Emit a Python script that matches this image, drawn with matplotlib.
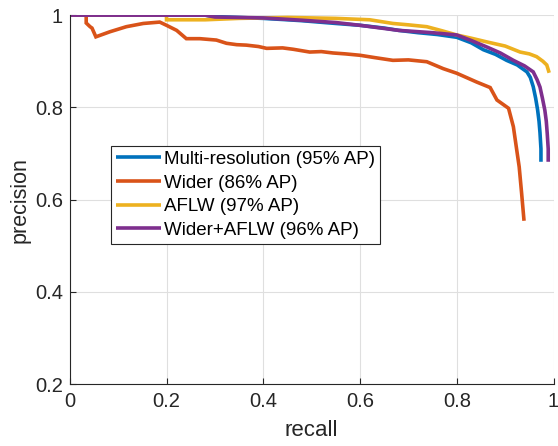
import numpy as np
import matplotlib.pyplot as plt

# precision / recall curves
recall_multi = [0, 0.28, 0.30, 0.35, 0.40, 0.45, 0.48, 0.55, 0.60, 0.65, 0.68, 0.72,
                0.76, 0.80, 0.83, 0.855, 0.88, 0.903, 0.925, 0.945, 0.952, 0.958,
                0.963, 0.967, 0.970, 0.972, 0.974, 0.974]
prec_multi = [1, 1, 0.997, 0.995, 0.993, 0.990, 0.988, 0.982, 0.978, 0.972, 0.967, 0.962,
              0.958, 0.952, 0.940, 0.925, 0.915, 0.902, 0.892, 0.877, 0.865, 0.845,
              0.820, 0.795, 0.770, 0.745, 0.710, 0.682]

recall_wider = [0, 0.034, 0.034, 0.042, 0.046, 0.054, 0.083, 0.117, 0.152, 0.186, 0.200,
                0.221, 0.241, 0.269, 0.303, 0.324, 0.345, 0.365, 0.390, 0.407, 0.440,
                0.462, 0.496, 0.520, 0.544, 0.570, 0.600, 0.630, 0.668, 0.700, 0.738,
                0.772, 0.800, 0.841, 0.869, 0.883, 0.907, 0.917, 0.924, 0.929, 0.934,
                0.939]
prec_wider = [1, 1, 0.983, 0.975, 0.972, 0.953, 0.964, 0.975, 0.982, 0.985, 0.978,
              0.967, 0.949, 0.949, 0.946, 0.939, 0.936, 0.935, 0.932, 0.928, 0.929,
              0.926, 0.920, 0.921, 0.918, 0.916, 0.913, 0.908, 0.902, 0.903, 0.899,
              0.884, 0.874, 0.855, 0.843, 0.816, 0.798, 0.758, 0.707, 0.671, 0.614,
              0.554]

recall_aflw = [0, 0.20, 0.20, 0.28, 0.35, 0.45, 0.55, 0.62, 0.668, 0.70, 0.738, 0.77,
               0.80, 0.83, 0.862, 0.90, 0.931, 0.95, 0.965, 0.978, 0.986, 0.991]
prec_aflw = [1, 1, 0.990, 0.990, 0.993, 0.995, 0.993, 0.990, 0.982, 0.979, 0.975, 0.966,
             0.957, 0.950, 0.942, 0.933, 0.920, 0.916, 0.910, 0.900, 0.892, 0.875]

recall_both = [0, 0.28, 0.30, 0.40, 0.48, 0.55, 0.60, 0.68, 0.75, 0.80, 0.83, 0.862,
               0.89, 0.917, 0.94, 0.958, 0.966, 0.972, 0.977, 0.982, 0.985, 0.987,
               0.989, 0.989]
prec_both = [1, 1, 0.996, 0.994, 0.989, 0.984, 0.978, 0.967, 0.962, 0.957, 0.945, 0.931,
             0.918, 0.902, 0.890, 0.877, 0.860, 0.844, 0.820, 0.794, 0.770, 0.743,
             0.710, 0.682]

labels = ["Multi-resolution (95% AP)", "Wider (86% AP)", "AFLW (97% AP)",
          "Wider+AFLW (96% AP)"]
colors = ["#0072BD", "#D95319", "#EDB120", "#7E2F8E"]

plt.rcParams["font.family"] = ["Liberation Sans", "DejaVu Sans"]

fig = plt.figure(figsize=(5.58, 4.46), dpi=100)
ax = fig.add_axes([0.125, 0.139, 0.867, 0.827])

curves = [(recall_multi, prec_multi), (recall_wider, prec_wider),
          (recall_aflw, prec_aflw), (recall_both, prec_both)]
for (r, p), lab, c in zip(curves, labels, colors):
    ax.plot(r, p, color=c, lw=2.6, label=lab, solid_joinstyle="miter",
            solid_capstyle="butt")

ax.set_xlim(0, 1)
ax.set_ylim(0.2, 1)
ax.set_xticks(np.arange(0, 1.01, 0.2))
ax.set_yticks(np.arange(0.2, 1.01, 0.2))
ax.set_xticklabels(["0", "0.2", "0.4", "0.6", "0.8", "1"])
ax.set_yticklabels(["0.2", "0.4", "0.6", "0.8", "1"])
ax.grid(True, color="#dfdfdf", lw=0.8)
ax.set_axisbelow(True)
for s in ["top", "right"]:
    ax.spines[s].set_visible(False)
for s in ["left", "bottom"]:
    ax.spines[s].set_color("#262626")
    ax.spines[s].set_linewidth(0.8)
ax.tick_params(direction="in", length=4, labelsize=14.5, colors="#262626")
ax.tick_params(axis="x", pad=6)
ax.tick_params(axis="y", pad=5)
ax.set_xlabel("recall", fontsize=16, color="#262626", labelpad=6)
ax.set_ylabel("precision", fontsize=15.5, color="#262626", labelpad=3)

leg = ax.legend(loc="upper left", bbox_to_anchor=(0.085, 0.645), fontsize=13.5,
                handlelength=2.4, labelspacing=0.35, borderpad=0.25,
                borderaxespad=0, handletextpad=0.2, fancybox=False,
                framealpha=1, edgecolor="#262626")
leg.get_frame().set_linewidth(0.8)

fig.savefig("out.png", dpi=100)
